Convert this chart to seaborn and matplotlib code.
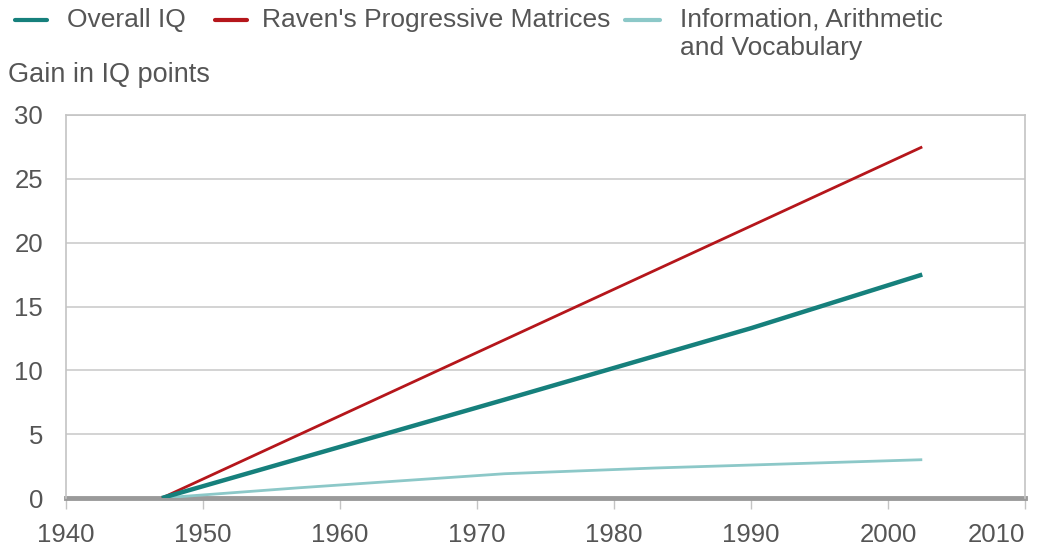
import matplotlib
matplotlib.use("Agg")
import matplotlib.pyplot as plt
from matplotlib.lines import Line2D
import seaborn as sns
import pandas as pd

# ---- data ----
series_names = ["Overall IQ", "Raven's Progressive Matrices", "Information, Arithmetic\nand Vocabulary"]
overall_years = [1947, 1972, 1990, 2002.5]
overall_gain = [0, 7.7, 13.3, 17.5]
raven_years = [1947, 2002.5]
raven_gain = [0, 27.5]
info_years = [1947, 1957, 1972, 1983, 2002.5]
info_gain = [0, 0.8, 1.9, 2.35, 3.0]
x_ticks = [1940, 1950, 1960, 1970, 1980, 1990, 2000, 2010]
y_ticks = [0, 5, 10, 15, 20, 25, 30]
y_label = "Gain in IQ points"

colors = ["#16807c", "#b5161b", "#8cc8c8"]
widths = [3.2, 2.0, 2.0]

df = pd.concat([
    pd.DataFrame({"year": overall_years, "gain": overall_gain, "series": series_names[0]}),
    pd.DataFrame({"year": raven_years, "gain": raven_gain, "series": series_names[1]}),
    pd.DataFrame({"year": info_years, "gain": info_gain, "series": series_names[2]}),
])

sns.set_theme(style="white")
plt.rcParams["font.family"] = ["Liberation Sans", "DejaVu Sans"]
text_color = "#555555"

fig = plt.figure(figsize=(10.5, 5.48), dpi=100)
ax = fig.add_axes([66 / 1050, 1 - 498 / 548, (1025 - 66) / 1050, (498 - 115) / 548])

for name, col, lw in zip(series_names[::-1], colors[::-1], widths[::-1]):
    sub = df[df["series"] == name]
    sns.lineplot(data=sub, x="year", y="gain", color=col, linewidth=lw, ax=ax,
                 legend=False, zorder=3, solid_capstyle="butt")

ax.set_xlim(1940, 2010)
ax.set_ylim(0, 30)
ax.set_xticks(x_ticks)
ax.set_yticks(y_ticks)
ax.set_xlabel("")
ax.set_ylabel("")
ax.grid(axis="y", color="#cccccc", linewidth=1.2)
ax.grid(axis="x", visible=False)
for s in ["left", "right", "top"]:
    ax.spines[s].set_visible(True)
    ax.spines[s].set_color("#c4c4c4")
    ax.spines[s].set_linewidth(1.2)
ax.spines["bottom"].set_color("#9a9a9a")
ax.spines["bottom"].set_linewidth(3.5)
ax.spines["bottom"].set_zorder(2)
ax.tick_params(axis="x", direction="out", length=8, width=1, color="#c4c4c4",
               labelsize=18.5, labelcolor=text_color, pad=10, bottom=True)
ax.tick_params(axis="y", length=0, labelsize=18.5, labelcolor=text_color, pad=16.5, left=False)
# last x label sits left of its tick so it stays inside the figure
ax.get_xticklabels()[-1].set_horizontalalignment("right")

# y-axis title above the axes
fig.text(8 / 1050, 1 - 75 / 548, y_label, fontsize=19.5, color=text_color, va="center", ha="left")

# legend along the top
handle_x = [(15, 47), (215, 247), (625, 660)]
text_x = [67, 262, 680]
for (x0, x1), xt, name, col in zip(handle_x, text_x, series_names, colors):
    yy = 1 - 20 / 548
    fig.add_artist(Line2D([x0 / 1050, x1 / 1050], [yy, yy], color=col, linewidth=3,
                          transform=fig.transFigure))
    for i, line in enumerate(name.split("\n")):
        fig.text(xt / 1050, 1 - (20 + 28 * i) / 548, line, fontsize=19, color=text_color,
                 va="center", ha="left")

fig.savefig("out.png", dpi=100)
